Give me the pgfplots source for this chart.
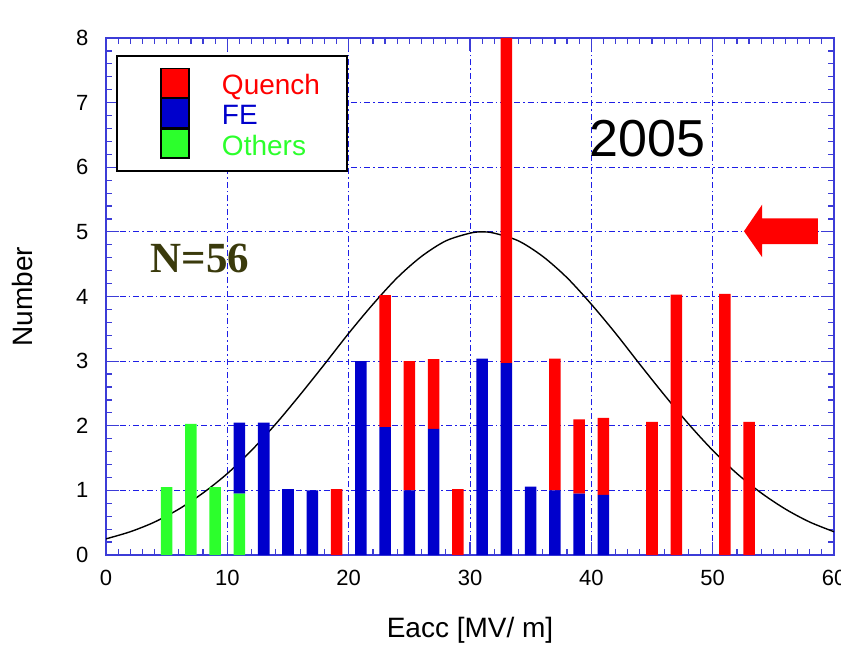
\documentclass[border=0pt]{standalone}
\usepackage{pgfplots}
\pgfplotsset{compat=1.18}
\usepackage{pgfplotstable}
\usepackage{fontspec}
\setmainfont{Liberation Sans}
\newfontfamily\serifbold{Liberation Serif}

\definecolor{qred}{RGB}{255,0,0}
\definecolor{feblue}{RGB}{0,0,204}
\definecolor{otgreen}{RGB}{44,255,44}
\definecolor{axblue}{RGB}{60,60,215}
\definecolor{gridblue}{RGB}{30,30,230}
\definecolor{olive56}{RGB}{58,58,12}

% stacked counts per 2 MV/m bin: others (bottom), FE, quench (top)
\pgfplotstableread{
x  others fe   quench
5  1.05   0    0
7  2.03   0    0
9  1.05   0    0
11 0.95   1.10 0
13 0      2.05 0
15 0      1.02 0
17 0      1.00 0
19 0      0    1.02
21 0      3.00 0
23 0      1.98 2.04
25 0      1.00 2.00
27 0      1.95 1.08
29 0      0    1.02
31 0      3.04 0
33 0      2.97 5.03
35 0      1.06 0
37 0      1.00 2.04
39 0      0.95 1.15
41 0      0.93 1.19
45 0      0    2.06
47 0      0    4.03
51 0      0    4.04
53 0      0    2.06
}\bars

% fitted curve
\pgfplotstableread{
x  y
0  0.25
2  0.36
4  0.51
6  0.71
8  0.96
10 1.26
12 1.62
14 2.03
16 2.48
18 2.95
20 3.43
22 3.88
24 4.29
26 4.62
28 4.86
30 4.98
31 5.00
32 4.98
34 4.86
36 4.62
38 4.29
40 3.88
42 3.43
44 2.95
46 2.48
48 2.03
50 1.62
52 1.26
54 0.96
56 0.71
58 0.51
60 0.36
}\fit

\pgfplotsset{myleg/.style={legend image code/.code={%
  \path[draw=none,fill=none] (0pt,-7.25pt) rectangle (39pt,7.25pt);
  \draw[##1,draw=black,line width=0.6pt] (8.5pt,-7.25pt) rectangle (22.5pt,7.25pt);}}}

\begin{document}
\begin{tikzpicture}
\begin{axis}[
  name=ax,
  scale only axis,
  width=364pt, height=258.5pt,
  xmin=0, xmax=60, ymin=0, ymax=8,
  enlargelimits=false,
  ybar stacked, bar width=0.95,
  xtick={0,10,...,60}, ytick={0,1,...,8},
  minor x tick num=9, minor y tick num=4,
  major tick length=6.5pt, minor tick length=3pt,
  tick align=inside,
  axis line style={axblue, line width=0.8pt},
  tick style={axblue, line width=0.6pt},
  grid=major,
  major grid style={gridblue, line width=0.5pt, dash pattern=on 3pt off 1.5pt on 0.8pt off 1.5pt},
  ticklabel style={font=\fontsize{11}{13}\selectfont},
  /pgf/number format/assume math mode=true,
  xticklabel style={yshift=-3.8pt},
  yticklabel style={xshift=-5.3pt},
  xlabel={Eacc [MV/ m]}, ylabel={Number},
  label style={font=\fontsize{14}{16}\selectfont},
  xlabel style={at={(axis description cs:0.5,-0.1586)}, anchor=base},
  ylabel style={at={(axis description cs:-0.1003,0.5)}, anchor=base},
  legend style={at={(0.0137,0.967)}, anchor=north west, draw=black, line width=1pt,
    fill=white, inner xsep=13.5pt, inner ysep=6pt, row sep=0pt, column sep=0pt,
    nodes={inner sep=0pt, text height=13pt, text depth=1.5pt, anchor=west,
      font=\fontsize{14}{16}\selectfont}},
  legend cell align=left,
  reverse legend,
]
\addplot[fill=otgreen, draw=none, myleg] table[x=x, y=others] {\bars};
\addlegendentry{\textcolor{otgreen}{Others}}
\addplot[fill=feblue, draw=none, myleg] table[x=x, y=fe] {\bars};
\addlegendentry{\textcolor{feblue}{FE}}
\addplot[fill=qred, draw=none, myleg] table[x=x, y=quench] {\bars};
\addlegendentry{\textcolor{qred}{Quench}}

\addplot[black, line width=0.7pt, smooth, mark=none, stack plots=false, forget plot] table[x=x, y=y] {\fit};

\node[font=\fontsize{26}{30}\selectfont] at (axis cs:44.6,6.45) {2005};
\node[font=\serifbold\bfseries\fontsize{21.5}{24}\selectfont, text=olive56] at (axis cs:7.75,4.59) {N=56};
\fill[qred] (axis cs:52.58,5.01) -- (axis cs:54.07,5.42) -- (axis cs:54.07,5.21)
  -- (axis cs:58.68,5.21) -- (axis cs:58.68,4.81) -- (axis cs:54.07,4.81)
  -- (axis cs:54.07,4.61) -- cycle;
\end{axis}
\pgfresetboundingbox
\path[use as bounding box] ([xshift=-53pt,yshift=-45.5pt]ax.south west) rectangle ([xshift=3.5pt,yshift=19pt]ax.north east);
\end{tikzpicture}
\end{document}
